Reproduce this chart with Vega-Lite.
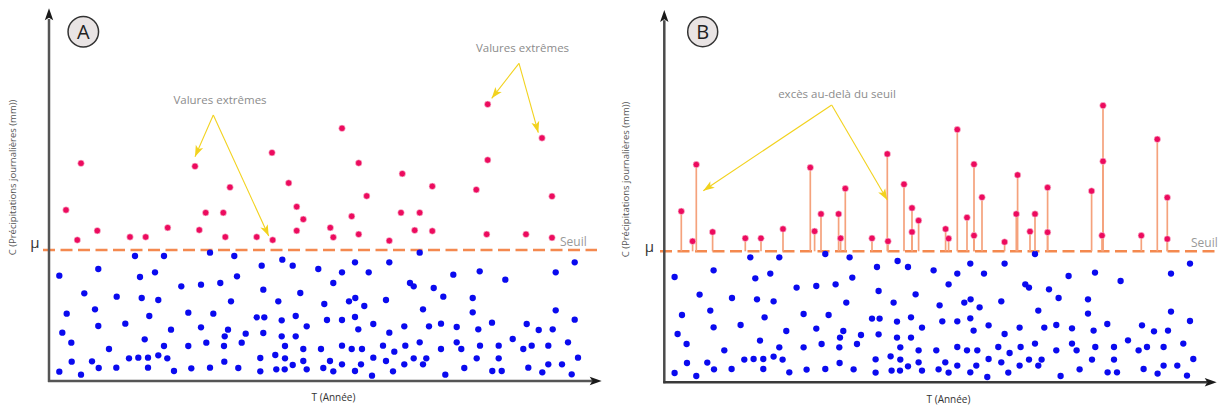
{
  "$schema": "https://vega.github.io/schema/vega-lite/v6.json",
  "width": 1223,
  "height": 408,
  "autosize": {"type": "none"},
  "padding": 0,
  "background": "white",
  "config": {"view": {"stroke": null}, "font": "Open Sans"},
  "data": {"values": [{}]},
  "datasets": {
    "blue": [
      {"T":86,"C":125},{"T":115,"C":125},{"T":161,"C":128.3},{"T":185.3,"C":125},{"T":212.7,"C":115.3},{"T":233.3,"C":121.3},{"T":243.7,"C":115.3},
      {"T":10.3,"C":105.3},{"T":49.3,"C":112},{"T":91,"C":104},{"T":106,"C":108.7},{"T":132.3,"C":94.7},{"T":152,"C":96.3},{"T":171.3,"C":98},{"T":188,"C":104.7},{"T":214.3,"C":91.3},{"T":251.3,"C":88},
      {"T":35.3,"C":87.7},{"T":67.7,"C":84.3},{"T":92.7,"C":83},{"T":109.3,"C":81},{"T":182,"C":79.7},{"T":229.3,"C":79.7},
      {"T":17.7,"C":67.3},{"T":46,"C":71.7},{"T":100.3,"C":65},{"T":139.3,"C":68.3},{"T":164.3,"C":67.3},{"T":207.7,"C":63.7},{"T":215.3,"C":63.7},{"T":232.7,"C":60.7},{"T":246.7,"C":65},
      {"T":13.3,"C":48.3},{"T":49.3,"C":55},{"T":76.3,"C":57.3},{"T":122,"C":51.3},{"T":152,"C":53.7},{"T":179,"C":51.3},{"T":196.7,"C":47.3},{"T":214.3,"C":48},{"T":257.7,"C":54.7},
      {"T":22.3,"C":38.3},{"T":95.7,"C":41.7},{"T":175.7,"C":44.7},{"T":232.7,"C":44.7},{"T":246.7,"C":44.7},
      {"T":60,"C":32},{"T":115,"C":35},{"T":139.3,"C":35},{"T":157.3,"C":38.3},{"T":175,"C":35},{"T":192.7,"C":38.3},{"T":236,"C":35},{"T":254.3,"C":32},
      {"T":22.7,"C":19.3},{"T":43,"C":19.7},{"T":80,"C":22.7},{"T":89.3,"C":23.3},{"T":99,"C":23.3},{"T":109.3,"C":25.7},{"T":118.3,"C":22.7},{"T":175.3,"C":19.3},{"T":211.3,"C":23},{"T":226.3,"C":26},{"T":236,"C":22.7},{"T":254.3,"C":20},
      {"T":10.3,"C":9.3},{"T":32,"C":6.3},{"T":49.7,"C":13},{"T":67.3,"C":13.3},{"T":99,"C":13.3},{"T":125,"C":10},{"T":142.3,"C":12.7},{"T":161,"C":13.3},{"T":189.3,"C":13},{"T":211.3,"C":9.7},{"T":227.3,"C":11.7},{"T":235.7,"C":11.7},{"T":243.7,"C":16},{"T":257.7,"C":11.7},
      {"T":269.3,"C":112},{"T":306,"C":118.7},{"T":340.3,"C":118.7},{"T":370.7,"C":128.3},{"T":293,"C":108.7},{"T":319.7,"C":108.7},{"T":284.3,"C":98},{"T":361,"C":98},{"T":364.7,"C":94.7},{"T":384.7,"C":93},{"T":404.3,"C":106.3},{"T":430.7,"C":109.7},{"T":456.3,"C":101.3},{"T":506.7,"C":108.7},{"T":525.7,"C":118.7},
      {"T":275.3,"C":77},{"T":300,"C":79.7},{"T":306.3,"C":83},{"T":315.3,"C":75},{"T":337,"C":81},{"T":374,"C":71.7},{"T":394.3,"C":84.3},{"T":423.7,"C":83},{"T":423.7,"C":68.7},{"T":506.7,"C":70.7},
      {"T":278,"C":61},{"T":293,"C":61},{"T":306,"C":64},{"T":309.3,"C":51.7},{"T":324.3,"C":57},{"T":340.3,"C":48.3},{"T":355.3,"C":54.7},{"T":380,"C":54.7},{"T":392,"C":57.3},{"T":407.7,"C":54},{"T":429.3,"C":51.7},{"T":443,"C":58.3},{"T":477.7,"C":57},{"T":489.7,"C":51},{"T":503.7,"C":51.7},{"T":525.7,"C":61.3},
      {"T":272,"C":32},{"T":293,"C":35.3},{"T":302.7,"C":32},{"T":313,"C":32},{"T":334,"C":35.3},{"T":345.3,"C":29.3},{"T":356.3,"C":35.3},{"T":370.7,"C":38.7},{"T":392,"C":32},{"T":407.7,"C":38.7},{"T":412.3,"C":32},{"T":431,"C":35.3},{"T":449.7,"C":35.3},{"T":463.7,"C":42},{"T":474.3,"C":32},{"T":482.7,"C":35.3},{"T":499.3,"C":35.3},{"T":519,"C":38.7},
      {"T":281,"C":20},{"T":293,"C":16.7},{"T":312,"C":16.7},{"T":324.3,"C":23.3},{"T":337,"C":20},{"T":364.7,"C":22.7},{"T":377.3,"C":22.7},{"T":374,"C":16.7},{"T":355.3,"C":16.7},{"T":427.7,"C":22.7},{"T":449.7,"C":22.7},{"T":499.3,"C":16.7},{"T":513,"C":16.7},{"T":529,"C":23.3},
      {"T":274.3,"C":13},{"T":284.3,"C":9.7},{"T":306,"C":10},{"T":323,"C":5.3},{"T":344,"C":9.7},{"T":396.3,"C":6.3},{"T":415.3,"C":13},{"T":443.3,"C":10},{"T":452.7,"C":10},{"T":479.3,"C":13.3},{"T":493.3,"C":8.7},{"T":522.7,"C":6.7}
    ],
    "red": [
      {"T":17,"C":171},{"T":32,"C":217.7},{"T":28.3,"C":141},{"T":48.3,"C":150.3},{"T":81,"C":144},{"T":96.7,"C":144},{"T":118.7,"C":153.3},{"T":146,"C":214.7},{"T":150.3,"C":151},{"T":156.7,"C":168.3},{"T":174.3,"C":168.3},{"T":181,"C":193.7},{"T":176.3,"C":144},{"T":207.7,"C":144},{"T":223.7,"C":141},{"T":223,"C":228.3},{"T":239.7,"C":198},{"T":247.7,"C":174.3},{"T":247.7,"C":150.3},{"T":254.3,"C":161.7},
      {"T":293,"C":252.7},{"T":309.7,"C":218},{"T":317.7,"C":185},{"T":302.7,"C":164.7},{"T":281.3,"C":153.3},{"T":284.3,"C":143.7},{"T":309.7,"C":146.7},{"T":340.3,"C":140.3},{"T":353.3,"C":207.3},{"T":352,"C":168.3},{"T":370.7,"C":168.3},{"T":365.7,"C":150.7},{"T":383.3,"C":150},{"T":383.3,"C":194.7},{"T":427.3,"C":191.3},{"T":438.7,"C":276.7},{"T":438.7,"C":221},{"T":437.7,"C":146.7},{"T":477,"C":146.7},{"T":493,"C":243},{"T":503,"C":184.7},{"T":503,"C":143.3}
    ],
    "arrowsA": [
      {"T":164.3,"C":266,"T2":146,"C2":224.3},
      {"T":164.3,"C":266,"T2":219.7,"C2":145},
      {"T":470,"C":317.7,"T2":442.7,"C2":282.7},
      {"T":470,"C":317.7,"T2":489.3,"C2":248.3}
    ],
    "arrowsB": [
      {"T":167.4,"C":277.3,"T2":39,"C2":191.6},
      {"T":167.4,"C":277.3,"T2":223,"C2":182.3}
    ]
  },
  "layer": [
    {
      "layer": [
        {
          "mark": {"type": "rule", "color": "#f4894f", "strokeWidth": 2.5, "strokeDash": [12, 5.5]},
          "encoding": {
            "x": {"datum": -6, "type": "quantitative", "scale": {"domain": [-49, 1174], "nice": false, "zero": false}, "axis": null},
            "x2": {"datum": 548},
            "y": {"datum": 131, "type": "quantitative", "scale": {"domain": [-27, 381], "nice": false, "zero": false}, "axis": null}
          }
        },
        {
          "mark": {"type": "rule", "color": "#555555", "strokeWidth": 2.5},
          "encoding": {
            "x": {"datum": 0, "type": "quantitative", "scale": {"domain": [-49, 1174], "nice": false, "zero": false}, "axis": null},
            "y": {"datum": -1, "type": "quantitative", "scale": {"domain": [-27, 381], "nice": false, "zero": false}, "axis": null},
            "y2": {"datum": 362}
          }
        },
        {
          "mark": {"type": "rule", "color": "#555555", "strokeWidth": 2.5},
          "encoding": {
            "x": {"datum": -1, "type": "quantitative", "scale": {"domain": [-49, 1174], "nice": false, "zero": false}, "axis": null},
            "x2": {"datum": 543},
            "y": {"datum": 0, "type": "quantitative", "scale": {"domain": [-27, 381], "nice": false, "zero": false}, "axis": null}
          }
        },
        {
          "mark": {"type": "point", "shape": "M0,0L-0.35,1L0,0.78L0.35,1Z", "filled": true, "fill": "#1a1a1a", "opacity": 1, "size": 576, "angle": 0, "strokeWidth": 0},
          "encoding": {
            "x": {"datum": 0, "type": "quantitative", "scale": {"domain": [-49, 1174], "nice": false, "zero": false}, "axis": null},
            "y": {"datum": 372.7, "type": "quantitative", "scale": {"domain": [-27, 381], "nice": false, "zero": false}, "axis": null}
          }
        },
        {
          "mark": {"type": "point", "shape": "M0,0L-0.35,1L0,0.78L0.35,1Z", "filled": true, "fill": "#1a1a1a", "opacity": 1, "size": 576, "angle": 90, "strokeWidth": 0},
          "encoding": {
            "x": {"datum": 552.7, "type": "quantitative", "scale": {"domain": [-49, 1174], "nice": false, "zero": false}, "axis": null},
            "y": {"datum": 0, "type": "quantitative", "scale": {"domain": [-27, 381], "nice": false, "zero": false}, "axis": null}
          }
        },
        {
          "data": {"name": "blue"},
          "mark": {"type": "point", "shape": "circle", "filled": true, "fill": "#0a0aef", "opacity": 1, "size": 40, "strokeWidth": 0},
          "encoding": {
            "x": {"field": "T", "type": "quantitative", "scale": {"domain": [-49, 1174], "nice": false, "zero": false}, "axis": null},
            "y": {"field": "C", "type": "quantitative", "scale": {"domain": [-27, 381], "nice": false, "zero": false}, "axis": null}
          }
        },
        {
          "data": {"name": "red"},
          "mark": {"type": "point", "shape": "circle", "filled": true, "fill": "#ec0b5e", "opacity": 1, "size": 42, "stroke": "#fbd3e0", "strokeWidth": 0.6},
          "encoding": {
            "x": {"field": "T", "type": "quantitative", "scale": {"domain": [-49, 1174], "nice": false, "zero": false}, "axis": null},
            "y": {"field": "C", "type": "quantitative", "scale": {"domain": [-27, 381], "nice": false, "zero": false}, "axis": null}
          }
        },
        {
          "data": {"name": "arrowsA"},
          "mark": {"type": "rule", "color": "#f2d21e", "strokeWidth": 1.1},
          "encoding": {
            "x": {"field": "T", "type": "quantitative", "scale": {"domain": [-49, 1174], "nice": false, "zero": false}, "axis": null},
            "y": {"field": "C", "type": "quantitative", "scale": {"domain": [-27, 381], "nice": false, "zero": false}, "axis": null},
            "x2": {"field": "T2"},
            "y2": {"field": "C2"}
          }
        },
        {
          "mark": {"type": "point", "shape": "M0,0L-0.36,1L0,0.75L0.36,1Z", "filled": true, "fill": "#f2d21e", "opacity": 1, "size": 500, "angle": 203.7, "strokeWidth": 0},
          "encoding": {
            "x": {"datum": 146, "type": "quantitative", "scale": {"domain": [-49, 1174], "nice": false, "zero": false}, "axis": null},
            "y": {"datum": 224.3, "type": "quantitative", "scale": {"domain": [-27, 381], "nice": false, "zero": false}, "axis": null}
          }
        },
        {
          "mark": {"type": "point", "shape": "M0,0L-0.36,1L0,0.75L0.36,1Z", "filled": true, "fill": "#f2d21e", "opacity": 1, "size": 500, "angle": 155.4, "strokeWidth": 0},
          "encoding": {
            "x": {"datum": 219.7, "type": "quantitative", "scale": {"domain": [-49, 1174], "nice": false, "zero": false}, "axis": null},
            "y": {"datum": 145, "type": "quantitative", "scale": {"domain": [-27, 381], "nice": false, "zero": false}, "axis": null}
          }
        },
        {
          "mark": {"type": "point", "shape": "M0,0L-0.36,1L0,0.75L0.36,1Z", "filled": true, "fill": "#f2d21e", "opacity": 1, "size": 500, "angle": 218, "strokeWidth": 0},
          "encoding": {
            "x": {"datum": 442.7, "type": "quantitative", "scale": {"domain": [-49, 1174], "nice": false, "zero": false}, "axis": null},
            "y": {"datum": 282.7, "type": "quantitative", "scale": {"domain": [-27, 381], "nice": false, "zero": false}, "axis": null}
          }
        },
        {
          "mark": {"type": "point", "shape": "M0,0L-0.36,1L0,0.75L0.36,1Z", "filled": true, "fill": "#f2d21e", "opacity": 1, "size": 500, "angle": 164.5, "strokeWidth": 0},
          "encoding": {
            "x": {"datum": 489.3, "type": "quantitative", "scale": {"domain": [-49, 1174], "nice": false, "zero": false}, "axis": null},
            "y": {"datum": 248.3, "type": "quantitative", "scale": {"domain": [-27, 381], "nice": false, "zero": false}, "axis": null}
          }
        },
        {
          "mark": {"type": "text", "text": "Valures extrêmes", "font": "Open Sans", "fontSize": 11.5, "color": "#8c8c8c", "align": "center", "baseline": "middle"},
          "encoding": {
            "x": {"datum": 171, "type": "quantitative", "scale": {"domain": [-49, 1174], "nice": false, "zero": false}, "axis": null},
            "y": {"datum": 280, "type": "quantitative", "scale": {"domain": [-27, 381], "nice": false, "zero": false}, "axis": null}
          }
        },
        {
          "mark": {"type": "text", "text": "Valures extrêmes", "font": "Open Sans", "fontSize": 11.5, "color": "#8c8c8c", "align": "center", "baseline": "middle"},
          "encoding": {
            "x": {"datum": 473.5, "type": "quantitative", "scale": {"domain": [-49, 1174], "nice": false, "zero": false}, "axis": null},
            "y": {"datum": 332, "type": "quantitative", "scale": {"domain": [-27, 381], "nice": false, "zero": false}, "axis": null}
          }
        },
        {
          "mark": {"type": "text", "text": "Seuil", "font": "Open Sans", "fontSize": 12, "color": "#999999", "align": "left", "baseline": "middle"},
          "encoding": {
            "x": {"datum": 511, "type": "quantitative", "scale": {"domain": [-49, 1174], "nice": false, "zero": false}, "axis": null},
            "y": {"datum": 139, "type": "quantitative", "scale": {"domain": [-27, 381], "nice": false, "zero": false}, "axis": null}
          }
        },
        {
          "mark": {"type": "text", "text": "μ", "font": "Open Sans", "fontSize": 15, "color": "#333333", "align": "center", "baseline": "alphabetic"},
          "encoding": {
            "x": {"datum": -14, "type": "quantitative", "scale": {"domain": [-49, 1174], "nice": false, "zero": false}, "axis": null},
            "y": {"datum": 133, "type": "quantitative", "scale": {"domain": [-27, 381], "nice": false, "zero": false}, "axis": null}
          }
        },
        {
          "mark": {"type": "text", "text": "C (Précipitations journalières (mm))", "font": "Open Sans", "fontSize": 9.5, "color": "#555555", "align": "center", "baseline": "middle", "angle": 270},
          "encoding": {
            "x": {"datum": -36, "type": "quantitative", "scale": {"domain": [-49, 1174], "nice": false, "zero": false}, "axis": null},
            "y": {"datum": 203.5, "type": "quantitative", "scale": {"domain": [-27, 381], "nice": false, "zero": false}, "axis": null}
          }
        },
        {
          "mark": {"type": "text", "text": "T (Année)", "font": "Open Sans", "fontSize": 10, "color": "#333333", "align": "center", "baseline": "middle"},
          "encoding": {
            "x": {"datum": 284.5, "type": "quantitative", "scale": {"domain": [-49, 1174], "nice": false, "zero": false}, "axis": null},
            "y": {"datum": -17, "type": "quantitative", "scale": {"domain": [-27, 381], "nice": false, "zero": false}, "axis": null}
          }
        },
        {
          "mark": {"type": "point", "shape": "circle", "filled": true, "fill": "#e9e4e4", "opacity": 1, "size": 930, "stroke": "#333333", "strokeWidth": 1.5},
          "encoding": {
            "x": {"datum": 34.3, "type": "quantitative", "scale": {"domain": [-49, 1174], "nice": false, "zero": false}, "axis": null},
            "y": {"datum": 349.3, "type": "quantitative", "scale": {"domain": [-27, 381], "nice": false, "zero": false}, "axis": null}
          }
        },
        {
          "mark": {"type": "text", "text": "A", "font": "Open Sans", "fontSize": 20, "color": "#222222", "align": "center", "baseline": "middle", "dy": 1},
          "encoding": {
            "x": {"datum": 34.3, "type": "quantitative", "scale": {"domain": [-49, 1174], "nice": false, "zero": false}, "axis": null},
            "y": {"datum": 349.3, "type": "quantitative", "scale": {"domain": [-27, 381], "nice": false, "zero": false}, "axis": null}
          }
        }
      ]
    },
    {
      "layer": [
        {
          "mark": {"type": "rule", "color": "#f4894f", "strokeWidth": 2.5, "strokeDash": [12, 5.5]},
          "encoding": {
            "x": {"datum": -4.3, "type": "quantitative", "scale": {"domain": [-664.3, 558.7], "nice": false, "zero": false}, "axis": null},
            "x2": {"datum": 553.7},
            "y": {"datum": 131, "type": "quantitative", "scale": {"domain": [-25.7, 382.3], "nice": false, "zero": false}, "axis": null}
          }
        },
        {
          "mark": {"type": "rule", "color": "#4a4a4a", "strokeWidth": 2.5},
          "encoding": {
            "x": {"datum": 0, "type": "quantitative", "scale": {"domain": [-664.3, 558.7], "nice": false, "zero": false}, "axis": null},
            "y": {"datum": -1, "type": "quantitative", "scale": {"domain": [-25.7, 382.3], "nice": false, "zero": false}, "axis": null},
            "y2": {"datum": 362}
          }
        },
        {
          "mark": {"type": "rule", "color": "#3a3a3a", "strokeWidth": 2.5},
          "encoding": {
            "x": {"datum": -1, "type": "quantitative", "scale": {"domain": [-664.3, 558.7], "nice": false, "zero": false}, "axis": null},
            "x2": {"datum": 543},
            "y": {"datum": 0, "type": "quantitative", "scale": {"domain": [-25.7, 382.3], "nice": false, "zero": false}, "axis": null}
          }
        },
        {
          "mark": {"type": "point", "shape": "M0,0L-0.35,1L0,0.78L0.35,1Z", "filled": true, "fill": "#1a1a1a", "opacity": 1, "size": 576, "angle": 0, "strokeWidth": 0},
          "encoding": {
            "x": {"datum": 0, "type": "quantitative", "scale": {"domain": [-664.3, 558.7], "nice": false, "zero": false}, "axis": null},
            "y": {"datum": 372.3, "type": "quantitative", "scale": {"domain": [-25.7, 382.3], "nice": false, "zero": false}, "axis": null}
          }
        },
        {
          "mark": {"type": "point", "shape": "M0,0L-0.35,1L0,0.78L0.35,1Z", "filled": true, "fill": "#1a1a1a", "opacity": 1, "size": 576, "angle": 90, "strokeWidth": 0},
          "encoding": {
            "x": {"datum": 552.4, "type": "quantitative", "scale": {"domain": [-664.3, 558.7], "nice": false, "zero": false}, "axis": null},
            "y": {"datum": 0, "type": "quantitative", "scale": {"domain": [-25.7, 382.3], "nice": false, "zero": false}, "axis": null}
          }
        },
        {
          "data": {"name": "blue"},
          "mark": {"type": "point", "shape": "circle", "filled": true, "fill": "#0a0aef", "opacity": 1, "size": 40, "strokeWidth": 0},
          "encoding": {
            "x": {"field": "T", "type": "quantitative", "scale": {"domain": [-664.3, 558.7], "nice": false, "zero": false}, "axis": null},
            "y": {"field": "C", "type": "quantitative", "scale": {"domain": [-25.7, 382.3], "nice": false, "zero": false}, "axis": null}
          }
        },
        {
          "data": {"name": "red"},
          "mark": {"type": "rule", "color": "#f5a27c", "strokeWidth": 1.7},
          "encoding": {
            "x": {"field": "T", "type": "quantitative", "scale": {"domain": [-664.3, 558.7], "nice": false, "zero": false}, "axis": null},
            "y": {"field": "C", "type": "quantitative", "scale": {"domain": [-25.7, 382.3], "nice": false, "zero": false}, "axis": null},
            "y2": {"datum": 131}
          }
        },
        {
          "data": {"name": "red"},
          "mark": {"type": "point", "shape": "circle", "filled": true, "fill": "#ec0b5e", "opacity": 1, "size": 42, "stroke": "#fbd3e0", "strokeWidth": 0.6},
          "encoding": {
            "x": {"field": "T", "type": "quantitative", "scale": {"domain": [-664.3, 558.7], "nice": false, "zero": false}, "axis": null},
            "y": {"field": "C", "type": "quantitative", "scale": {"domain": [-25.7, 382.3], "nice": false, "zero": false}, "axis": null}
          }
        },
        {
          "data": {"name": "arrowsB"},
          "mark": {"type": "rule", "color": "#f2d21e", "strokeWidth": 1.1},
          "encoding": {
            "x": {"field": "T", "type": "quantitative", "scale": {"domain": [-664.3, 558.7], "nice": false, "zero": false}, "axis": null},
            "y": {"field": "C", "type": "quantitative", "scale": {"domain": [-25.7, 382.3], "nice": false, "zero": false}, "axis": null},
            "x2": {"field": "T2"},
            "y2": {"field": "C2"}
          }
        },
        {
          "mark": {"type": "point", "shape": "M0,0L-0.36,1L0,0.75L0.36,1Z", "filled": true, "fill": "#f2d21e", "opacity": 1, "size": 500, "angle": 236.3, "strokeWidth": 0},
          "encoding": {
            "x": {"datum": 39, "type": "quantitative", "scale": {"domain": [-664.3, 558.7], "nice": false, "zero": false}, "axis": null},
            "y": {"datum": 191.6, "type": "quantitative", "scale": {"domain": [-25.7, 382.3], "nice": false, "zero": false}, "axis": null}
          }
        },
        {
          "mark": {"type": "point", "shape": "M0,0L-0.36,1L0,0.75L0.36,1Z", "filled": true, "fill": "#f2d21e", "opacity": 1, "size": 500, "angle": 149.7, "strokeWidth": 0},
          "encoding": {
            "x": {"datum": 223, "type": "quantitative", "scale": {"domain": [-664.3, 558.7], "nice": false, "zero": false}, "axis": null},
            "y": {"datum": 182.3, "type": "quantitative", "scale": {"domain": [-25.7, 382.3], "nice": false, "zero": false}, "axis": null}
          }
        },
        {
          "mark": {"type": "text", "text": "excès au-delà du seuil", "font": "Open Sans", "fontSize": 11.5, "color": "#8c8c8c", "align": "center", "baseline": "middle"},
          "encoding": {
            "x": {"datum": 172.7, "type": "quantitative", "scale": {"domain": [-664.3, 558.7], "nice": false, "zero": false}, "axis": null},
            "y": {"datum": 287.3, "type": "quantitative", "scale": {"domain": [-25.7, 382.3], "nice": false, "zero": false}, "axis": null}
          }
        },
        {
          "mark": {"type": "text", "text": "Seuil", "font": "Open Sans", "fontSize": 12, "color": "#999999", "align": "left", "baseline": "middle"},
          "encoding": {
            "x": {"datum": 526.7, "type": "quantitative", "scale": {"domain": [-664.3, 558.7], "nice": false, "zero": false}, "axis": null},
            "y": {"datum": 139.8, "type": "quantitative", "scale": {"domain": [-25.7, 382.3], "nice": false, "zero": false}, "axis": null}
          }
        },
        {
          "mark": {"type": "text", "text": "μ", "font": "Open Sans", "fontSize": 15, "color": "#333333", "align": "center", "baseline": "alphabetic"},
          "encoding": {
            "x": {"datum": -15, "type": "quantitative", "scale": {"domain": [-664.3, 558.7], "nice": false, "zero": false}, "axis": null},
            "y": {"datum": 130, "type": "quantitative", "scale": {"domain": [-25.7, 382.3], "nice": false, "zero": false}, "axis": null}
          }
        },
        {
          "mark": {"type": "text", "text": "C (Précipitations journalières (mm))", "font": "Open Sans", "fontSize": 9.5, "color": "#555555", "align": "center", "baseline": "middle", "angle": 270},
          "encoding": {
            "x": {"datum": -38.3, "type": "quantitative", "scale": {"domain": [-664.3, 558.7], "nice": false, "zero": false}, "axis": null},
            "y": {"datum": 202.8, "type": "quantitative", "scale": {"domain": [-25.7, 382.3], "nice": false, "zero": false}, "axis": null}
          }
        },
        {
          "mark": {"type": "text", "text": "T (Année)", "font": "Open Sans", "fontSize": 10, "color": "#333333", "align": "center", "baseline": "middle"},
          "encoding": {
            "x": {"datum": 284.2, "type": "quantitative", "scale": {"domain": [-664.3, 558.7], "nice": false, "zero": false}, "axis": null},
            "y": {"datum": -17.7, "type": "quantitative", "scale": {"domain": [-25.7, 382.3], "nice": false, "zero": false}, "axis": null}
          }
        },
        {
          "mark": {"type": "point", "shape": "circle", "filled": true, "fill": "#e9e4e4", "opacity": 1, "size": 900, "stroke": "#333333", "strokeWidth": 1.5},
          "encoding": {
            "x": {"datum": 38.4, "type": "quantitative", "scale": {"domain": [-664.3, 558.7], "nice": false, "zero": false}, "axis": null},
            "y": {"datum": 350.6, "type": "quantitative", "scale": {"domain": [-25.7, 382.3], "nice": false, "zero": false}, "axis": null}
          }
        },
        {
          "mark": {"type": "text", "text": "B", "font": "Open Sans", "fontSize": 20, "color": "#222222", "align": "center", "baseline": "middle", "dy": 1},
          "encoding": {
            "x": {"datum": 38.4, "type": "quantitative", "scale": {"domain": [-664.3, 558.7], "nice": false, "zero": false}, "axis": null},
            "y": {"datum": 350.6, "type": "quantitative", "scale": {"domain": [-25.7, 382.3], "nice": false, "zero": false}, "axis": null}
          }
        }
      ]
    }
  ],
  "resolve": {"scale": {"x": "independent", "y": "independent"}}
}
